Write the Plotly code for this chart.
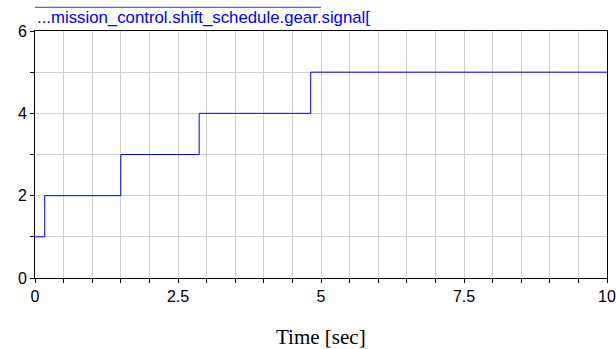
import plotly.graph_objects as go

# Data
time_s = [0.0, 0.17, 1.5, 2.87, 4.82, 10.0]
gear = [1, 2, 3, 4, 5, 5]
legend_label = "...mission_control.shift_schedule.gear.signal["
x_title = "Time [sec]"

fig = go.Figure()
fig.add_trace(go.Scatter(
    x=time_s, y=gear, mode="lines", line_shape="hv",
    line=dict(color="#0000ff", width=1), showlegend=False,
))

axis_common = dict(
    showline=True, linecolor="#000000", linewidth=1, mirror=True,
    ticks="outside", ticklen=4, tickcolor="#000000", tickwidth=1,
    showgrid=True, gridcolor="#cfcfcf", gridwidth=1, zeroline=False,
    automargin=False,
    tickfont=dict(family="Liberation Sans, Arial, sans-serif", size=16, color="#000000"),
)

fig.update_xaxes(
    range=[0, 10], dtick=2.5, tick0=0,
    minor=dict(dtick=0.5, ticks="outside", ticklen=4, tickcolor="#000000",
               showgrid=True, gridcolor="#cfcfcf"),
    **axis_common,
)
fig.update_yaxes(
    range=[0, 6], dtick=2, tick0=0,
    minor=dict(dtick=1, ticks="outside", ticklen=4, tickcolor="#000000",
               showgrid=True, gridcolor="#cfcfcf"),
    **axis_common,
)

fig.add_annotation(text=x_title, xref="paper", yref="paper",
                   x=0.5, y=0, xanchor="center", yanchor="middle", yshift=-58.5,
                   showarrow=False,
                   font=dict(family="Liberation Serif, Times New Roman, serif", size=21, color="#000000"))

fig.add_shape(type="line", xref="paper", yref="paper",
              x0=0, x1=0.5, y0=1.096, y1=1.096,
              line=dict(color="#3333ff", width=1))
fig.add_annotation(text=legend_label, xref="paper", yref="paper",
                   x=0, y=1.055, xanchor="left", yanchor="middle", showarrow=False,
                   font=dict(family="Liberation Sans, Arial, sans-serif", size=16.8, color="#0000ff"))

fig.update_layout(
    width=616, height=349,
    margin=dict(l=35, r=9, t=31, b=71, autoexpand=False),
    paper_bgcolor="#ffffff", plot_bgcolor="#ffffff",
)

fig.write_html("out.html")
